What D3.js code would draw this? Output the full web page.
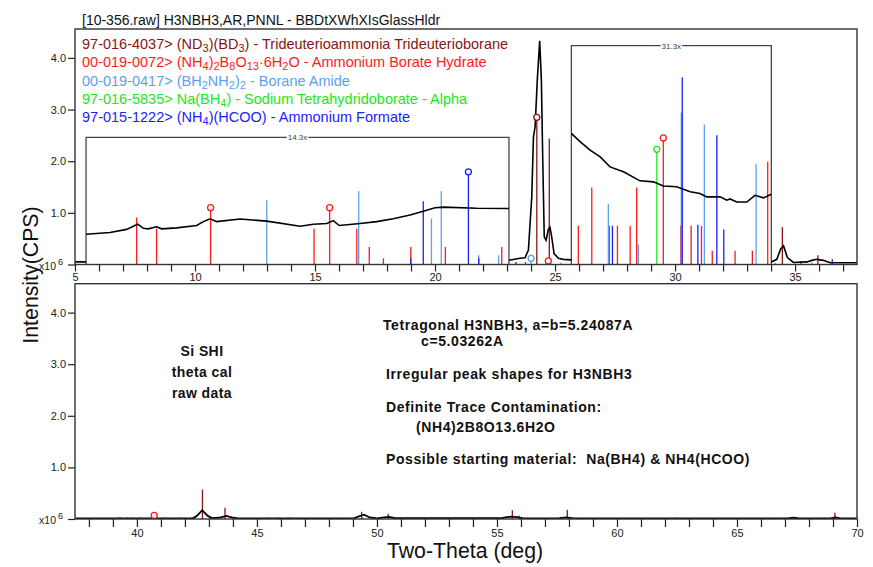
<!DOCTYPE html>
<meta charset="utf-8">
<script src="https://cdn.jsdelivr.net/npm/d3@7"></script>
<style>
  body { margin: 0; background: #fff; }
  text { font-family: Arial, "Liberation Sans", sans-serif; }
</style>
<div id="my_dataviz"></div>

<script>

// ---- Data (intensities in x10^6 CPS, as displayed) ----
var title = "[10-356.raw] H3NBH3,AR,PNNL - BBDtXWhXIsGlassHldr";

var phaseIds    = ["ND3BD3", "NH4B8O13", "BH2NH2", "NaBH4", "NH4HCOO"];
var phaseLabels = [
  "97-016-4037> (ND_3)(BD_3) - Trideuterioammonia Trideuterioborane",
  "00-019-0072> (NH_4)_2B_8O_13·6H_2O - Ammonium Borate Hydrate",
  "00-019-0417> (BH_2NH_2)_2 - Borane Amide",
  "97-016-5835> Na(BH_4) - Sodium Tetrahydridoborate - Alpha",
  "97-015-1222> (NH_4)(HCOO) - Ammonium Formate"
];
var phaseColors = ["#8b1414", "#ff1a1a", "#5c9ff0", "#22e622", "#1c1cff"];

// stick patterns: [2theta, height, marker]
var sticksND3 = [[24.24,2.85,1],[24.76,2.44],[34.47,0.72],[35.95,0.18],
  [42.73,0.57],[43.67,0.22],[49.36,0.14],[50.47,0.10],[55.64,0.17],[57.93,0.18],[67.23,0.04],[69.08,0.12]];
var sticksNH4B = [[7.57,0.91],[8.40,0.69],[10.65,1.10,1],[14.96,0.69],[15.61,1.10,1],[16.74,0.69],
  [17.26,0.34],[17.85,0.12],[18.99,0.34],[20.43,0.34],[22.78,0.34],[23.77,0.05],[24.72,0.07,1],
  [25.97,0.75],[26.53,1.49],[27.26,0.75],[27.60,0.75],[28.13,0.75],[28.40,1.49],[29.51,2.45,1],
  [30.24,0.75],[30.67,0.75],[31.10,0.75],[31.55,0.265],[32.50,0.265],[33.22,0.265],[33.86,1.99],[35.24,0.07],
  [39.29,0.04],[40.08,0.03],[40.72,0.07,1],[43.04,0.04],[45.46,0.03],[45.94,0.03],[46.33,0.03],
  [55.92,0.07],[62.44,0.03],[67.90,0.02]];
var sticksBH2 = [[12.99,1.245],[16.82,1.42],[19.85,0.89],[20.26,1.42],[21.82,0.18],[22.65,0.18],[24.00,0.12,1],
  [27.22,1.17],[28.47,0.39],[30.26,2.945],[31.22,2.71],[33.375,1.945],[34.17,0.04],[35.70,0.04],
  [39.60,0.03],[41.08,0.03],[48.50,0.02],[52.50,0.02],[58.90,0.02]];
var sticksNaBH4 = [[25.25,0.04],[29.24,2.23,1],
  [41.75,0.04],[49.43,0.03],[51.78,0.02],[60.57,0.02],[66.64,0.02],[68.62,0.03]];
var sticksHCOO = [[18.99,0.12],[19.51,1.225],[21.39,1.795,1],[21.82,0.12],[23.37,0.05],[27.39,0.75],
  [30.30,3.62],[30.95,0.77],[31.74,2.505],[32.03,0.68],[36.55,0.10],
  [39.76,0.03],[42.38,0.02],[44.04,0.02],[44.88,0.02],[46.82,0.02],[48.90,0.02],[49.10,0.02],
  [60.10,0.02],[63.20,0.02],[64.10,0.02],[65.50,0.02]];
var phaseSticks = [sticksND3, sticksNH4B, sticksBH2, sticksNaBH4, sticksHCOO];

// measured scan, split where the zoom windows are
var scanStart = [[5.0,0.05],[5.46,0.05]];
var scanZoom14 = [[5.46,0.587],[6.46,0.62],[7.15,0.68],[7.43,0.74],[7.61,0.78],[7.85,0.70],[8.05,0.69],
  [8.40,0.73],[8.61,0.69],[9.24,0.71],[10.07,0.755],[10.35,0.83],[10.63,0.885],[10.90,0.83],[11.88,0.88],
  [12.99,0.84],[14.38,0.74],[14.93,0.78],[15.49,0.795],[15.76,0.85],[16.01,0.755],[16.88,0.795],
  [17.57,0.83],[18.26,0.885],[18.96,0.96],[19.51,1.03],[20.0,1.10],[20.35,1.11],[21.74,1.09],[23.08,1.085]];
var scanPeak = [[23.08,0.083],[23.54,0.12],[23.75,0.13],[23.89,0.28],[24.03,1.31],[24.10,2.47],[24.17,2.67],
  [24.26,3.57],[24.36,4.33],[24.43,3.57],[24.49,1.96],[24.55,0.535],[24.625,0.47],[24.72,0.68],[24.79,0.72],
  [24.86,0.535],[24.96,0.21],[25.14,0.12],[25.35,0.10],[25.68,0.09]];
var scanZoom31 = [[25.68,2.54],[26.04,2.38],[26.46,2.215],[26.88,2.085],[27.29,1.89],[27.85,1.795],
  [28.54,1.62],[29.10,1.60],[29.51,1.52],[30.07,1.505],[30.63,1.41],[31.04,1.375],[31.32,1.31],[31.88,1.31],
  [32.15,1.245],[32.29,1.27],[32.57,1.21],[32.99,1.21],[33.33,1.34],[33.68,1.29],[34.01,1.36]];
var scanEnd = [[34.01,0.05],[34.24,0.10],[34.40,0.30],[34.52,0.36],[34.68,0.135],[34.93,0.04],[35.5,0.05],
  [35.7,0.08],[35.9,0.10],[36.18,0.08],[36.46,0.035],[37.6,0.035]];
var scanHighAngle = [[37.4,0.01],[42.3,0.01],[42.5,0.06],[42.72,0.17],[42.95,0.06],[43.15,0.015],[43.5,0.03],
  [43.72,0.06],[43.95,0.03],[44.2,0.01],[49.0,0.01],[49.25,0.05],[49.46,0.085],[49.7,0.03],[50.0,0.01],
  [50.3,0.03],[50.5,0.04],[50.75,0.015],[55.2,0.015],[55.4,0.035],[55.6,0.045],[55.85,0.035],[56.1,0.01],
  [57.6,0.015],[57.9,0.03],[58.2,0.01],[67.1,0.01],[67.35,0.025],[67.6,0.01],[68.9,0.01],[69.1,0.03],
  [69.3,0.01],[70.0,0.01]];

// zoom windows in the low-angle panel
var zoomFrom   = [5.46, 25.68];
var zoomTo     = [23.08, 34.01];
var zoomTop    = [2.46, 4.24];
var zoomLabels = ["14.3x", "31.3x"];

var yTicks = [0, 1, 2, 3, 4];
var notesLeft = ["Si SHI", "theta cal", "raw data"];
var notesRight = [
  ["Tetragonal H3NBH3, a=b=5.24087A", 0],
  ["c=5.03262A", 1],
  ["Irregular peak shapes for H3NBH3", 0],
  ["Definite Trace Contamination:", 0],
  ["(NH4)2B8O13.6H2O", 1],
  ["Possible starting material:  Na(BH4) & NH4(HCOO)", 0]
];

// ---- Layout ----
var W = 873, H = 567;
var left = 75, right = 857;
var panels = [
  { domain: [5, 37.58],  top: 29,    bottom: 264.5, tick: 7 },
  { domain: [37.42, 70], top: 283.7, bottom: 519,   tick: 8 }
];

var svg = d3.select("#my_dataviz").append("svg")
  .attr("width", W).attr("height", H);

var line = function (x, y) {
  return d3.line().x(function (d) { return x(d[0]); }).y(function (d) { return y(d[1]); });
};

panels.forEach(function (p, pi) {
  p.x = d3.scaleLinear().domain(p.domain).range([left, right]);
  p.y = d3.scaleLinear().domain([0, 4.56]).range([p.bottom, p.top]);

  svg.append("clipPath").attr("id", "clip" + pi)
    .append("rect").attr("x", left).attr("y", p.top)
    .attr("width", right - left).attr("height", p.bottom - p.top);

  var g = svg.append("g");
  var plot = g.append("g").attr("clip-path", "url(#clip" + pi + ")");

  // x axis, ticks every degree, labels every 5
  var xa = g.append("g")
    .attr("transform", "translate(0," + p.bottom + ")")
    .call(d3.axisBottom(p.x)
      .tickValues(d3.range(Math.ceil(p.domain[0]), Math.floor(p.domain[1]) + 1))
      .tickFormat(function (d) { return d % 5 === 0 ? d : ""; })
      .tickSize(p.tick).tickPadding(2));
  xa.select(".domain").remove();
  xa.selectAll("line").attr("stroke", "#222").attr("stroke-width", 1.2);
  xa.selectAll("text").attr("font-size", 11).attr("fill", "#222")
    .style("font-family", "Arial, 'Liberation Sans', sans-serif");

  // y axis
  var ya = g.append("g")
    .attr("transform", "translate(" + left + ",0)")
    .call(d3.axisLeft(p.y).tickValues(yTicks)
      .tickFormat(function (d) { return d === 0 ? "" : d3.format(".1f")(d); })
      .tickSize(7).tickPadding(2));
  ya.select(".domain").remove();
  ya.selectAll("line").attr("stroke", "#222").attr("stroke-width", 1.2);
  ya.selectAll("text").attr("font-size", 11).attr("fill", "#222")
    .style("font-family", "Arial, 'Liberation Sans', sans-serif");

  var mult = g.append("text").attr("x", 63).attr("y", p.y(0) + 5)
    .attr("text-anchor", "end").attr("font-size", 10.5).attr("fill", "#222");
  mult.append("tspan").text("x10");
  mult.append("tspan").attr("dx", 2).attr("dy", -5).attr("font-size", 9).text("6");

  // reference sticks
  phaseSticks.forEach(function (arr, k) {
    plot.selectAll(null).data(arr).enter().append("line")
      .attr("x1", function (d) { return p.x(d[0]); })
      .attr("x2", function (d) { return p.x(d[0]); })
      .attr("y1", p.y(0))
      .attr("y2", function (d) { return p.y(d[1]); })
      .attr("stroke", phaseColors[k]).attr("stroke-width", 1.3);
  });

  p.g = g; p.plot = plot;
});

var pTop = panels[0], pBot = panels[1];

// zoom windows
zoomLabels.forEach(function (lab, i) {
  var x0 = pTop.x(zoomFrom[i]), x1 = pTop.x(zoomTo[i]), yt = pTop.y(zoomTop[i]);
  pTop.plot.append("path")
    .attr("d", "M" + x0 + "," + pTop.y(0) + "V" + yt + "H" + x1 + "V" + pTop.y(0))
    .attr("fill", "none").attr("stroke", "#444").attr("stroke-width", 1.3);
  var t = pTop.plot.append("text").attr("x", (x0 + x1) / 2).attr("y", yt + 3)
    .attr("text-anchor", "middle").attr("font-size", 8).attr("fill", "#444").text(lab);
  var bb = t.node().getBBox();
  pTop.plot.insert("rect", "text:last-child")
    .attr("x", bb.x - 1).attr("y", yt - 2).attr("width", bb.width + 2).attr("height", 4)
    .attr("fill", "#fff");
});

// scan curves
[scanStart, scanZoom14, scanPeak, scanZoom31, scanEnd].forEach(function (seg) {
  pTop.plot.append("path").datum(seg).attr("d", line(pTop.x, pTop.y))
    .attr("fill", "none").attr("stroke", "#000").attr("stroke-width", 1.6);
});
pBot.plot.append("path").datum(scanHighAngle).attr("d", line(pBot.x, pBot.y))
  .attr("fill", "none").attr("stroke", "#000").attr("stroke-width", 1.8);

// markers on the strongest reference lines
panels.forEach(function (p) {
  phaseSticks.forEach(function (arr, k) {
    p.plot.selectAll(null).data(arr.filter(function (d) { return d[2]; })).enter()
      .append("circle")
      .attr("cx", function (d) { return p.x(d[0]); })
      .attr("cy", function (d) { return p.y(d[1]); })
      .attr("r", 3).attr("fill", "#fff")
      .attr("stroke", phaseColors[k]).attr("stroke-width", 1.3);
  });
  // frame
  p.g.append("rect").attr("x", left).attr("y", p.top)
    .attr("width", right - left).attr("height", p.bottom - p.top)
    .attr("fill", "none").attr("stroke", "#333").attr("stroke-width", 1.4);
});

// legend (digits after "_" are subscripts)
var legend = svg.append("g");
phaseLabels.forEach(function (lab, i) {
  var t = legend.append("text").attr("x", 82).attr("y", 49 + i * 18.3)
    .attr("font-size", 14.5).attr("fill", phaseColors[i]);
  var shifted = false;
  lab.split(/_(\d+)/).forEach(function (s, j) {
    if (j % 2 === 1) {
      t.append("tspan").attr("dy", shifted ? 0 : 3).attr("font-size", 11).text(s);
      shifted = true;
    } else if (s.length) {
      t.append("tspan").attr("dy", shifted ? -3 : 0).text(s);
      shifted = false;
    }
  });
});

// title
svg.append("text").attr("x", 82).attr("y", 25).attr("font-size", 14)
  .attr("fill", "#111").text(title);

// notes
svg.selectAll(null).data(notesLeft).enter().append("text")
  .attr("x", 202).attr("y", function (d, i) { return 356 + i * 21; })
  .attr("text-anchor", "middle").attr("font-size", 14).attr("font-weight", "bold")
  .attr("letter-spacing", 0.4)
  .attr("fill", "#111").text(function (d) { return d; });

var noteY = [330, 346, 379, 412, 432, 464];
svg.selectAll(null).data(notesRight).enter().append("text")
  .attr("x", function (d, i) { return i === 0 ? 383 : d[1] ? (i === 1 ? 421 : 416) : 386; })
  .attr("y", function (d, i) { return noteY[i]; })
  .attr("font-size", 14).attr("font-weight", "bold").attr("letter-spacing", 0.6)
  .style("white-space", "pre")
  .attr("fill", "#111").text(function (d) { return d[0]; });

// axis titles
svg.append("text").attr("x", 465).attr("y", 558).attr("text-anchor", "middle")
  .attr("font-size", 21.3).attr("fill", "#111").text("Two-Theta (deg)");
svg.append("text").attr("transform", "translate(38,275) rotate(-90)")
  .attr("text-anchor", "middle").attr("font-size", 21.3).attr("fill", "#111")
  .text("Intensity(CPS)");

</script>
